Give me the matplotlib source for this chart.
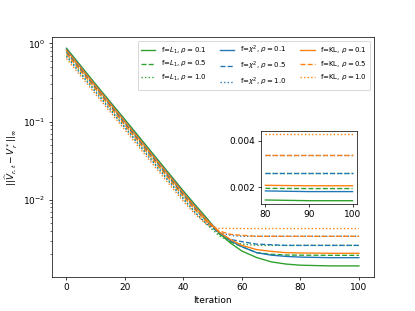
import matplotlib
matplotlib.use('Agg')
import matplotlib.pyplot as plt
from matplotlib.ticker import FormatStrFormatter

iters = [0, 10, 20, 30, 40, 44, 48, 52, 56, 60, 65, 70, 75, 80, 90, 100]

# f = L1
l1_01 = [0.87, 0.30, 0.106, 0.037, 0.0129, 0.0086, 0.0058, 0.0038, 0.0028, 0.0022, 0.00182, 0.0016, 0.0015, 0.00145, 0.00142, 0.00142]
l1_05 = [0.80, 0.28, 0.097, 0.034, 0.0118, 0.0079, 0.0053, 0.0037, 0.0029, 0.0025, 0.0021, 0.0020, 0.00196, 0.00195, 0.00194, 0.00194]
l1_10 = [0.70, 0.245, 0.085, 0.0297, 0.0104, 0.0069, 0.0048, 0.0035, 0.0029, 0.0027, 0.0026, 0.0026, 0.0026, 0.0026, 0.0026, 0.0026]
# f = chi^2
chi_01 = [0.84, 0.29, 0.102, 0.0356, 0.0125, 0.0083, 0.0056, 0.0039, 0.0030, 0.0025, 0.0021, 0.00195, 0.00188, 0.00184, 0.00181, 0.00181]
chi_05 = [0.77, 0.27, 0.094, 0.0327, 0.0115, 0.0076, 0.0052, 0.0038, 0.0031, 0.0029, 0.0027, 0.00265, 0.0026, 0.0026, 0.0026, 0.0026]
chi_10 = [0.68, 0.237, 0.083, 0.0288, 0.0101, 0.0068, 0.0049, 0.0038, 0.0035, 0.0034, 0.0034, 0.0034, 0.0034, 0.0034, 0.0034, 0.0034]
# f = KL
kl_01 = [0.82, 0.285, 0.100, 0.0348, 0.0122, 0.0081, 0.0055, 0.0039, 0.0031, 0.0026, 0.0023, 0.00218, 0.0021, 0.00208, 0.00206, 0.00206]
kl_05 = [0.74, 0.26, 0.090, 0.0314, 0.0110, 0.0074, 0.0052, 0.0040, 0.0036, 0.0035, 0.0034, 0.0034, 0.0034, 0.0034, 0.0034, 0.0034]
kl_10 = [0.64, 0.223, 0.078, 0.027, 0.0095, 0.0065, 0.0048, 0.0043, 0.00428, 0.00427, 0.00427, 0.00427, 0.00427, 0.00427, 0.00427, 0.00427]

series = [
    (l1_01, 'tab:green', '-', r'f=$L_1$, $\rho=0.1$'),
    (l1_05, 'tab:green', '--', r'f=$L_1$, $\rho=0.5$'),
    (l1_10, 'tab:green', ':', r'f=$L_1$, $\rho=1.0$'),
    (chi_01, 'tab:blue', '-', r'f=$\chi^2$, $\rho=0.1$'),
    (chi_05, 'tab:blue', '--', r'f=$\chi^2$, $\rho=0.5$'),
    (chi_10, 'tab:blue', ':', r'f=$\chi^2$, $\rho=1.0$'),
    (kl_01, 'tab:orange', '-', r'f=KL, $\rho=0.1$'),
    (kl_05, 'tab:orange', '--', r'f=KL, $\rho=0.5$'),
    (kl_10, 'tab:orange', ':', r'f=KL, $\rho=1.0$'),
]

fig, ax = plt.subplots(figsize=(415/65, 311/65), dpi=65)
for vals, c, ls, lab in series:
    ax.plot(iters, vals, color=c, linestyle=ls, linewidth=1.5, label=lab)
ax.set_yscale('log')
ax.set_xlabel('Iteration')
ax.set_ylabel(r'$||\widehat{V}_{r,t} - V_r^*||_\infty$')
ax.legend(ncol=3, fontsize=7.8, loc='upper right')

# zoomed inset over the last iterations
axin = fig.add_axes([0.629, 0.344, 0.231, 0.235])
k = iters.index(80)
for vals, c, ls, lab in series:
    axin.plot(iters[k:], vals[k:], color=c, linestyle=ls, linewidth=1.5)
axin.set_xticks([80, 90, 100])
axin.set_yticks([0.002, 0.004])
axin.yaxis.set_major_formatter(FormatStrFormatter('%.3f'))

fig.savefig('out.png', dpi=65)
